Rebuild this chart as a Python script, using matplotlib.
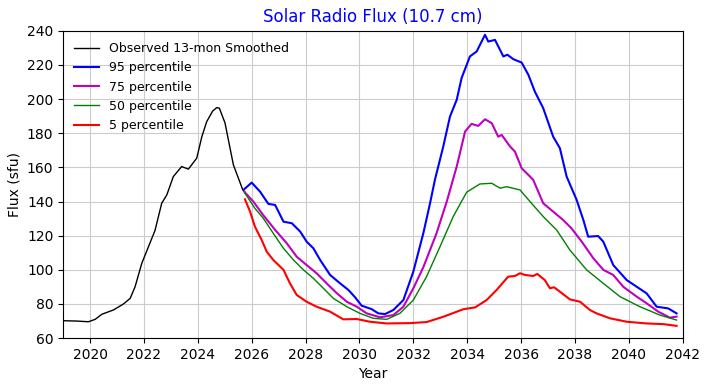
import numpy as np
import matplotlib
matplotlib.use("Agg")
from matplotlib import pyplot as plt

# observed 13-month smoothed flux
obs_year = [2019.0, 2019.5, 2019.94, 2020.19, 2020.44, 2020.87, 2021.24, 2021.49, 2021.67,
            2021.92, 2022.17, 2022.41, 2022.66, 2022.85, 2023.09, 2023.40, 2023.65,
            2023.96, 2024.15, 2024.33, 2024.55, 2024.70, 2024.80, 2025.01, 2025.32, 2025.67,
            2025.75]
obs_flux = [70.2, 70.0, 69.6, 71.0, 74.0, 76.5, 80.0, 83.3, 90.0,
            103.8, 113.6, 123.0, 139.0, 143.9, 154.6, 160.5, 159.0,
            165.4, 178.0, 186.8, 193.0, 195.0, 194.7, 186.0, 161.5, 146.8,
            145.5]

# 95 percentile
p95_year = [2025.72, 2026.0, 2026.31, 2026.62, 2026.87, 2027.18, 2027.49, 2027.8, 2028.04,
            2028.29, 2028.54, 2028.91, 2029.28, 2029.59, 2029.84, 2030.08, 2030.45, 2030.70,
            2030.95, 2031.26, 2031.63, 2032.0, 2032.37, 2032.62, 2032.80, 2033.11, 2033.36,
            2033.61, 2033.79, 2034.10, 2034.35, 2034.66, 2034.78, 2035.03, 2035.34, 2035.49,
            2035.71, 2036.02, 2036.27, 2036.51, 2036.82, 2037.19, 2037.44, 2037.69, 2038.06,
            2038.31, 2038.49, 2038.86, 2039.05, 2039.42, 2039.92, 2040.66, 2041.03, 2041.46,
            2041.77]
p95_flux = [147.2, 151.1, 145.8, 138.6, 138.0, 128.2, 127.3, 122.4, 116.5,
            112.6, 105.8, 97.0, 92.1, 88.2, 83.9, 79.0, 77.0, 74.5,
            74.1, 76.5, 82.3, 99.0, 121.4, 139.0, 152.7, 172.2, 189.8,
            199.6, 212.3, 225.0, 227.9, 237.7, 233.7, 234.7, 225.0, 226.0,
            223.4, 221.4, 214.2, 204.4, 194.7, 178.0, 171.2, 154.6, 141.0,
            129.2, 119.4, 119.8, 116.5, 102.8, 94.0, 86.2, 78.4, 77.4,
            74.5]

# 75 percentile
p75_year = [2025.72, 2026.06, 2026.43, 2026.87, 2027.30, 2027.67, 2028.04, 2028.41, 2028.78,
            2029.16, 2029.53, 2029.9, 2030.27, 2030.76, 2031.26, 2031.63, 2032.0, 2032.37,
            2032.86, 2033.24, 2033.61, 2033.92, 2034.16, 2034.41, 2034.66, 2034.91, 2035.15,
            2035.28, 2035.59, 2035.77, 2036.02, 2036.27, 2036.45, 2036.82, 2037.19, 2037.56,
            2037.87, 2038.25, 2038.68, 2039.05, 2039.42, 2039.79, 2040.29, 2040.66, 2041.09,
            2041.52, 2041.77]
p75_flux = [145.8, 140.0, 132.0, 123.4, 115.6, 107.7, 102.8, 98.0, 92.1,
            86.3, 81.3, 78.4, 74.5, 72.2, 73.5, 78.4, 89.2, 101.5,
            121.4, 140.0, 160.5, 181.0, 185.5, 184.3, 188.2, 185.9, 178.0,
            179.0, 172.2, 169.3, 159.5, 155.6, 152.7, 139.0, 134.1, 129.2,
            124.3, 116.5, 106.8, 100.0, 97.0, 90.1, 84.3, 80.4, 75.5,
            72.0, 72.6]

# 50 percentile
p50_year = [2025.75, 2026.12, 2026.43, 2026.80, 2027.18, 2027.55, 2027.92, 2028.29, 2028.66,
            2029.03, 2029.53, 2030.02, 2030.51, 2031.01, 2031.50, 2032.0, 2032.49, 2032.99,
            2033.48, 2033.98, 2034.47, 2034.91, 2035.22, 2035.46, 2035.96, 2036.33, 2036.82,
            2037.32, 2037.81, 2038.43, 2039.05, 2039.67, 2040.41, 2041.15, 2041.77]
p50_flux = [144.9, 136.0, 130.2, 121.4, 112.6, 105.8, 100.0, 95.0, 89.2,
            83.3, 78.4, 74.5, 71.6, 71.0, 74.5, 82.3, 96.0, 113.6,
            131.2, 145.5, 150.3, 150.7, 147.8, 148.7, 146.8, 140.0, 131.2,
            123.3, 111.6, 100.0, 92.1, 84.3, 78.4, 73.5, 70.6]

# 5 percentile
p5_year = [2025.75, 2025.94, 2026.12, 2026.37, 2026.56, 2026.80, 2027.18, 2027.42, 2027.67,
           2028.04, 2028.41, 2028.91, 2029.40, 2029.90, 2030.39, 2031.01, 2031.88, 2032.49,
           2033.11, 2033.85, 2034.29, 2034.72, 2035.09, 2035.52, 2035.77, 2035.96, 2036.14,
           2036.45, 2036.60, 2036.88, 2037.07, 2037.22, 2037.44, 2037.81, 2038.19, 2038.55,
           2038.80, 2039.30, 2039.92, 2040.66, 2041.28, 2041.77]
p5_flux = [141.3, 134.1, 125.3, 117.5, 110.6, 105.8, 100.0, 92.1, 85.3,
           81.3, 78.4, 75.5, 71.0, 71.2, 69.6, 68.6, 68.8, 69.4,
           72.5, 76.9, 78.0, 82.3, 88.2, 96.0, 96.4, 98.0, 97.0,
           96.4, 97.6, 94.0, 89.2, 89.8, 87.2, 82.7, 81.3, 76.5,
           74.5, 71.6, 69.6, 68.6, 68.2, 67.2]

fig = plt.figure(figsize=(7.09, 3.9), dpi=100)
ax = fig.add_axes([0.089, 0.133, 0.874, 0.788])

ax.plot(obs_year, obs_flux, color="k", lw=1.0, label="Observed 13-mon Smoothed")
ax.plot(p95_year, p95_flux, color="b", lw=1.5, label="95 percentile")
ax.plot(p75_year, p75_flux, color="m", lw=1.5, label="75 percentile")
ax.plot(p50_year, p50_flux, color="g", lw=1.0, label="50 percentile")
ax.plot(p5_year, p5_flux, color="r", lw=1.5, label="5 percentile")

ax.set_xlim(2019, 2042)
ax.set_ylim(60, 240)
ax.set_xticks(np.arange(2020, 2043, 2))
ax.set_yticks(np.arange(60, 241, 20))
ax.grid(True, color="#cccccc", lw=0.8)
ax.set_axisbelow(True)

ax.set_xlabel("Year")
ax.set_ylabel("Flux (sfu)")
ax.set_title("Solar Radio Flux (10.7 cm)", color="b")
ax.legend(loc="upper left", frameon=False, fontsize=9)

fig.savefig("out.png", dpi=100)
